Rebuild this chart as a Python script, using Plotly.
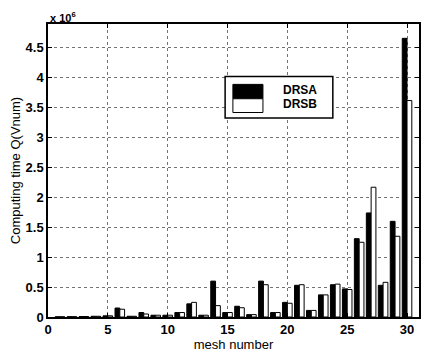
import plotly.graph_objects as go

# Data (computing time in units of 1e6)
mesh = list(range(1, 31))
drsa = [0.003, 0.005, 0.008, 0.012, 0.02, 0.15, 0.012, 0.075, 0.03, 0.03,
        0.075, 0.22, 0.03, 0.60, 0.075, 0.18, 0.04, 0.60, 0.075, 0.245,
        0.53, 0.11, 0.37, 0.54, 0.47, 1.31, 1.74, 0.53, 1.60, 4.66]
drsb = [0.003, 0.005, 0.008, 0.012, 0.02, 0.13, 0.012, 0.05, 0.03, 0.03,
        0.075, 0.245, 0.03, 0.19, 0.075, 0.155, 0.04, 0.54, 0.075, 0.23,
        0.54, 0.11, 0.37, 0.55, 0.46, 1.25, 2.17, 0.58, 1.35, 3.62]
xticks = [0, 5, 10, 15, 20, 25, 30]
yticks = [0, 0.5, 1, 1.5, 2, 2.5, 3, 3.5, 4, 4.5]
yticktext = ["0", "0.5", "1", "1.5", "2", "2.5", "3", "3.5", "4", "4.5"]
series_names = ["DRSA", "DRSB"]

FONT = "Liberation Sans, Arial, sans-serif"

fig = go.Figure()
fig.add_trace(go.Bar(x=mesh, y=drsa, name=series_names[0],
                     marker=dict(color="black", line=dict(color="black", width=1))))
fig.add_trace(go.Bar(x=mesh, y=drsb, name=series_names[1],
                     marker=dict(color="white", line=dict(color="black", width=1))))

axis_common = dict(
    showline=True, linecolor="black", linewidth=1.5, mirror="ticks",
    ticks="inside", ticklen=4, tickcolor="black",
    showgrid=True, gridcolor="rgba(0,0,0,0.55)", griddash="dot", gridwidth=1,
    zeroline=False,
    tickfont=dict(family=FONT, size=13, color="black", weight="bold"),
)

fig.update_layout(
    width=424, height=352,
    margin=dict(l=48, r=5, t=24, b=35),
    paper_bgcolor="white", plot_bgcolor="white",
    barmode="group", bargap=0.2, bargroupgap=0.0,
    showlegend=False,
    font=dict(family=FONT, color="black"),
    xaxis=dict(range=[0, 31], tickvals=xticks, automargin=False,
               title=dict(text="mesh number", standoff=0,
                          font=dict(family=FONT, size=13, color="black")),
               **axis_common),
    yaxis=dict(range=[0, 4.9], tickvals=yticks, ticktext=yticktext, automargin=False,
               title=dict(text="Computing time Q(Vnum)", standoff=2,
                          font=dict(family=FONT, size=13, color="black")),
               **axis_common),
)

# exponent label
fig.add_annotation(xref="paper", yref="paper", x=0.0, y=1.0, xanchor="left", yanchor="bottom",
                   text="<b>x 10<sup>6</sup></b>", showarrow=False,
                   font=dict(family=FONT, size=11, color="black"), yshift=-2)

# legend drawn manually (MATLAB style)
fig.add_shape(type="rect", xref="x", yref="y", x0=14.8, x1=23.8, y0=3.33, y1=4.02,
              line=dict(color="black", width=1.5), fillcolor="white", layer="above")
fig.add_shape(type="rect", xref="x", yref="y", x0=15.45, x1=17.96, y0=3.65, y1=3.89,
              line=dict(color="black", width=1), fillcolor="black", layer="above")
fig.add_shape(type="rect", xref="x", yref="y", x0=15.45, x1=17.96, y0=3.42, y1=3.65,
              line=dict(color="black", width=1), fillcolor="white", layer="above")
fig.add_annotation(xref="x", yref="y", x=19.5, y=3.80, xanchor="left", yanchor="middle",
                   text="<b>DRSA</b>", showarrow=False,
                   font=dict(family=FONT, size=12, color="black"))
fig.add_annotation(xref="x", yref="y", x=19.5, y=3.56, xanchor="left", yanchor="middle",
                   text="<b>DRSB</b>", showarrow=False,
                   font=dict(family=FONT, size=12, color="black"))

fig.write_html("out.html",
               config={"displayModeBar": False},
               post_script="document.body.style.margin='0';document.body.style.overflow='hidden';")
